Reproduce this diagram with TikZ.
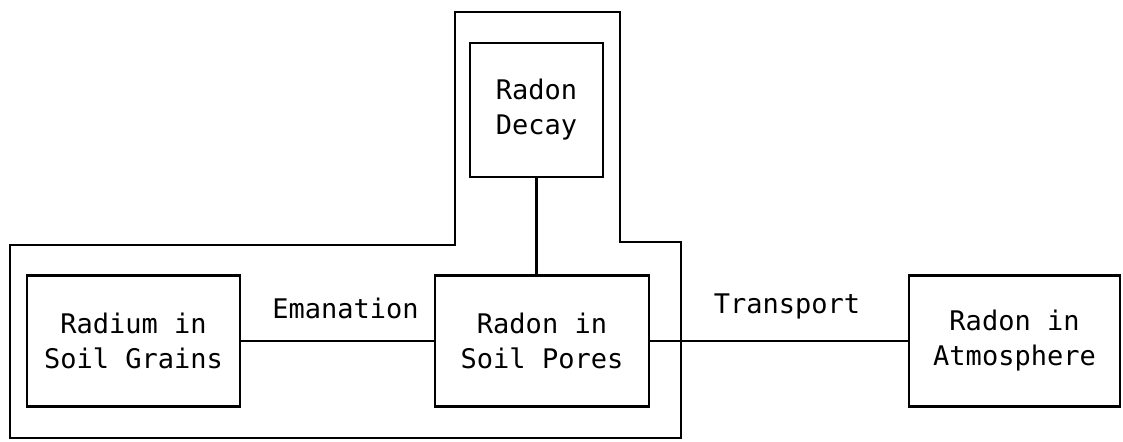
\documentclass[tikz,border=0pt]{standalone}
\usepackage{fontspec}
\setmonofont{DejaVu Sans Mono}
\usepackage{tikz}
\usetikzlibrary{positioning,calc}
\tikzset{
    % boxes of the radon budget
    pool/.style={rectangle,draw=black,line width=1.1pt,align=center,inner sep=2pt,
        font=\ttfamily\fontsize{13.5}{17.5}\selectfont},
    link/.style={draw=black,line width=1.1pt},
    flowlabel/.style={above=7pt,xshift=4pt,font=\ttfamily\fontsize{13.5}{17.5}\selectfont}
}

\begin{document}
\begin{tikzpicture}[x=0.5pt,y=-0.5pt]
    \useasboundingbox (0,0) rectangle (1123,441);

    % Soil compartment outline
    \draw[link] (10,245) -- (455,245) -- (455,12) -- (620,12) -- (620,242)
        -- (681,242) -- (681,438) -- (10,438) -- cycle;

    % Pools
    \node[pool,minimum width=66.5pt,minimum height=67pt] (decay) at (536.5,110) {Radon\\Decay};
    \node[pool,minimum width=106.5pt,minimum height=65.5pt] (grains) at (133.5,341) {Radium in\\Soil Grains};
    \node[pool,minimum width=107pt,minimum height=65.5pt] (pores) at (542,341) {Radon in\\Soil Pores};
    \node[pool,minimum width=105.5pt,minimum height=65.5pt] (atmos) at (1014.5,341) {Radon in\\Atmosphere};

    % Connections
    \draw[link] (decay.south) -- (decay.south |- pores.north);
    \draw[link] (grains.east) -- node[flowlabel] (eman) {Emanation} (pores.west);
    \draw[link] (pores.east) -- node[flowlabel] (trans) {Transport} (atmos.west);
\end{tikzpicture}
\end{document}
